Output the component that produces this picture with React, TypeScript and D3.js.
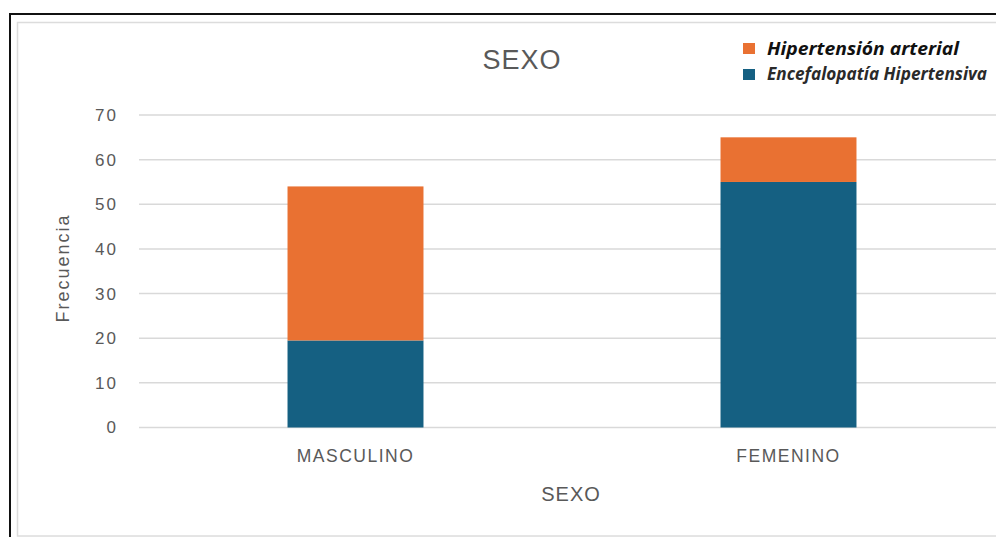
import React from "react";
import * as d3 from "d3";

const categories = ["MASCULINO", "FEMENINO"];
const encefalopatia = [19.5, 55];
const hipertension = [34.5, 10];
const seriesNames = ["Hipertensión arterial", "Encefalopatía Hipertensiva"];
const seriesColors = ["#E97132", "#156082"];
const yTicks = [0, 10, 20, 30, 40, 50, 60, 70];

export default function App() {
  const W = 996, H = 537;
  const x = d3.scaleBand<string>().domain(categories).range([139, 1005]).paddingInner(0.686).paddingOuter(0.343);
  const y = d3.scaleLinear().domain([0, 70]).range([427.5, 115]);
  const gray = "#595959";
  const font = "'Liberation Sans', Arial, sans-serif";
  const legendLengths = [192, 220];

  return (
    <svg width={W} height={H} style={{ position: "absolute", left: 0, top: 0, background: "#fff" }} fontFamily={font}>
      <rect x={0} y={0} width={W} height={H} fill="#fff" />
      <rect x={10} y={14} width={1100} height={600} fill="none" stroke="#111" strokeWidth={2} />
      <rect x={17.5} y={22.5} width={1100} height={513.5} fill="none" stroke="#dcdcdc" strokeWidth={1.5} />

      {yTicks.map((t) => (
        <g key={t}>
          <line x1={139} x2={W} y1={y(t)} y2={y(t)} stroke="#d9d9d9" strokeWidth={1.5} />
          <text x={118} y={y(t)} dy="0.35em" textAnchor="end" fontSize={17} fill={gray} letterSpacing={2}>{t}</text>
        </g>
      ))}

      {categories.map((c, i) => {
        const x0 = x(c)!;
        const bw = x.bandwidth();
        return (
          <g key={c}>
            <rect x={x0} width={bw} y={y(encefalopatia[i])} height={y(0) - y(encefalopatia[i])} fill={seriesColors[1]} />
            <rect x={x0} width={bw} y={y(encefalopatia[i] + hipertension[i])} height={y(encefalopatia[i]) - y(encefalopatia[i] + hipertension[i])} fill={seriesColors[0]} />
            <text x={x0 + bw / 2} y={456} dy="0.35em" textAnchor="middle" fontSize={17.5} fill={gray} letterSpacing={1.5}>{c}</text>
          </g>
        );
      })}

      <text x={522} y={60} dy="0.35em" textAnchor="middle" fontSize={27} fill={gray} letterSpacing={1}>SEXO</text>
      <text x={571} y={494} dy="0.35em" textAnchor="middle" fontSize={20} fill={gray} letterSpacing={1}>SEXO</text>
      <text transform={`translate(63,268) rotate(-90)`} dy="0.35em" textAnchor="middle" fontSize={18} fill={gray} letterSpacing={2}>Frecuencia</text>

      {seriesNames.map((s, i) => (
        <g key={s}>
          <rect x={743} y={43 + i * 26} width={12} height={11} fill={seriesColors[i]} />
          <text x={767} y={49 + i * 25} dy="0.35em" fontSize={18} fontWeight="bold" fontStyle="italic" fill={i === 0 ? "#111" : "#2a2a2a"} fontFamily="'Open Sans', sans-serif" textLength={legendLengths[i]} lengthAdjust="spacingAndGlyphs">{s}</text>
        </g>
      ))}
    </svg>
  );
}
